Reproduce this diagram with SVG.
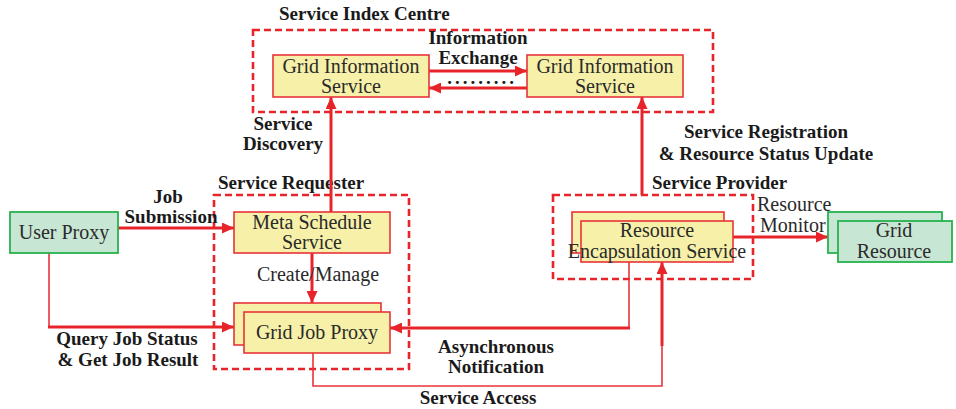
<svg xmlns="http://www.w3.org/2000/svg" width="956" height="409" viewBox="0 0 956 409">
<defs>
<style>
.box{fill:#f6f0a8;stroke:#e8343a;stroke-width:1.6}
.gbox{fill:#c8e6d4;stroke:#27b24f;stroke-width:1.8}
.dash{fill:none;stroke:#e8242b;stroke-width:2.6;stroke-dasharray:7,4}
.ln{fill:none;stroke:#e8242b;stroke-width:3}
.thin{fill:none;stroke:#e8343a;stroke-width:1.6}
.t{font-family:"Liberation Serif","Times New Roman",serif;font-size:20px;fill:#2a2a2a;text-anchor:middle}
.b{font-family:"Liberation Serif","Times New Roman",serif;font-size:19px;font-weight:bold;fill:#1a1a1a;text-anchor:middle}
.s{text-anchor:start}
</style>
<marker id="ah" markerUnits="userSpaceOnUse" markerWidth="12" markerHeight="11" refX="12" refY="5.5" orient="auto">
<path d="M0,0 L12,5.5 L0,11 z" fill="#e8242b"/>
</marker>
</defs>
<rect width="956" height="409" fill="#ffffff"/>

<g id="groups">
<rect class="dash" x="253" y="30" width="460" height="82"/>
<rect class="dash" x="214" y="195" width="195" height="174"/>
<rect class="dash" x="553" y="195" width="200" height="84"/>
<text class="b s" x="279" y="20">Service Index Centre</text>
<text class="b s" x="218" y="189">Service Requester</text>
<text class="b s" x="652" y="189">Service Provider</text>
</g>

<g id="connectors">
<line class="ln" x1="429" y1="71" x2="527" y2="71" marker-end="url(#ah)"/>
<line class="ln" x1="527" y1="88" x2="429" y2="88" marker-end="url(#ah)"/>
<line class="ln" x1="331" y1="212" x2="331" y2="97" marker-end="url(#ah)"/>
<line class="ln" x1="642" y1="195" x2="642" y2="97" marker-end="url(#ah)"/>
<line class="ln" x1="118" y1="228" x2="234" y2="228" marker-end="url(#ah)"/>
<line class="thin" x1="49" y1="253" x2="49" y2="327"/>
<line class="ln" x1="48" y1="327" x2="234" y2="327" marker-end="url(#ah)"/>
<line class="ln" x1="312" y1="253" x2="312" y2="303" marker-end="url(#ah)"/>
<polyline class="thin" points="629,262 629,328"/>
<line class="ln" x1="630" y1="328" x2="390" y2="328" marker-end="url(#ah)"/>
<polyline class="thin" points="313,353 313,386 662,386 662,344"/>
<line class="ln" x1="662" y1="346" x2="662" y2="262" marker-end="url(#ah)"/>
<line class="ln" x1="733" y1="237" x2="828" y2="237" marker-end="url(#ah)"/>
<text class="b" x="478" y="44" font-size="18">Information</text>
<text class="b" x="478" y="64" font-size="18">Exchange</text>
<text class="b" x="482" y="84" letter-spacing="3" font-size="13">.........</text>
<text class="b" x="283" y="130">Service</text>
<text class="b" x="283" y="150">Discovery</text>
<text class="b" x="766" y="138">Service Registration</text>
<text class="b" x="766" y="160">&amp; Resource Status Update</text>
<text class="b" x="168" y="203">Job</text>
<text class="b" x="171" y="223">Submission</text>
<text class="t" x="318" y="281">Create/Manage</text>
<text class="b" x="127" y="345">Query Job Status</text>
<text class="b" x="128" y="366">&amp; Get Job Result</text>
<text class="b" x="496" y="353">Asynchronous</text>
<text class="b" x="496" y="373">Notification</text>
<text class="b" x="478" y="404">Service Access</text>
<text class="t s" x="757" y="211">Resource</text>
<text class="t s" x="760" y="232">Monitor</text>
</g>

<g id="gis1">
<rect class="box" x="273" y="55" width="156" height="42"/>
<text class="t" x="351" y="73">Grid Information</text>
<text class="t" x="351" y="93">Service</text>
</g>
<g id="gis2">
<rect class="box" x="527" y="55" width="156" height="42"/>
<text class="t" x="605" y="73">Grid Information</text>
<text class="t" x="605" y="93">Service</text>
</g>
<g id="user-proxy">
<rect class="gbox" x="10" y="212" width="108" height="41"/>
<text class="t" x="64" y="239">User Proxy</text>
</g>
<g id="meta-schedule">
<rect class="box" x="234" y="212" width="156" height="41"/>
<text class="t" x="312" y="229">Meta Schedule</text>
<text class="t" x="312" y="249">Service</text>
</g>
<g id="grid-job-proxy">
<rect class="box" x="234" y="303" width="147" height="42"/>
<rect class="box" x="244" y="312" width="146" height="41"/>
<text class="t" x="317" y="339">Grid Job Proxy</text>
</g>
<g id="resource-encapsulation">
<rect class="box" x="572" y="212" width="152" height="41"/>
<rect class="box" x="581" y="221" width="152" height="41"/>
<text class="t" x="657" y="237">Resource</text>
<text class="t" x="657" y="258">Encapsulation Service</text>
</g>
<g id="grid-resource">
<rect class="gbox" x="828" y="212" width="114" height="41"/>
<rect class="gbox" x="838" y="221" width="114" height="41"/>
<text class="t" x="894" y="237">Grid</text>
<text class="t" x="894" y="258">Resource</text>
</g>
</svg>
